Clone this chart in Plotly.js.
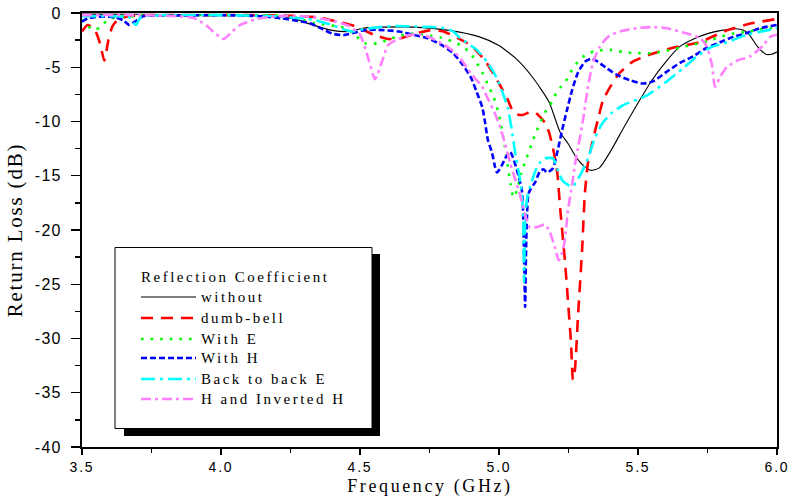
<!DOCTYPE html>
<html><head><meta charset="utf-8">
<script src="https://cdn.plot.ly/plotly-3.0.1.min.js"></script>
<style>
html,body{margin:0;padding:0;background:#fff;}
#chart{width:795px;height:498px;}
.annotation-text{letter-spacing:2.5px;}
.annotation[data-index="0"] .annotation-text{letter-spacing:2.6px;}
.xtitle,.ytitle{letter-spacing:1.8px;}
.ytick text{letter-spacing:1.3px;}
.xtick text{letter-spacing:1.8px;}
</style></head><body><div id="chart"></div><script>
// ---- data (GHz, dB) ----
const seriesNames = ["without", "dumb-bell", "With E", "With H", "Back to back E", "H and Inverted H"];
const legendTitle = "Reflection Coefficient";
const xTitle = "Frequency (GHz)";
const yTitle = "Return Loss (dB)";

const freqWithout = [3.5, 3.7, 3.9, 4.1, 4.2, 4.27, 4.33, 4.4, 4.46, 4.51, 4.58, 4.69, 4.82, 4.93, 5.0, 5.065, 5.12, 5.18, 5.22, 5.25, 5.28, 5.31, 5.33, 5.36, 5.4, 5.45, 5.5, 5.55, 5.6, 5.65, 5.7, 5.75, 5.8, 5.85, 5.88, 5.9, 5.93, 5.96, 5.98, 6.0];
const rlWithout   = [-0.1, -0.12, -0.15, -0.2, -0.3, -0.6, -1.1, -1.6, -1.7, -1.4, -1.3, -1.3, -1.6, -2.2, -3.0, -4.3, -5.9, -8.2, -11.0, -12.1, -13.4, -14.2, -14.5, -14.3, -12.8, -10.5, -8.3, -6.2, -4.5, -3.1, -2.4, -1.9, -1.6, -1.45, -1.6, -2.0, -3.1, -3.8, -3.8, -3.6];

const freqDumbbell = [3.5, 3.52, 3.545, 3.565, 3.58, 3.595, 3.61, 3.63, 3.67, 3.75, 3.9, 4.1, 4.25, 4.35, 4.42, 4.48, 4.55, 4.6, 4.65, 4.7, 4.75, 4.8, 4.85, 4.9, 4.95, 5.0, 5.03, 5.045, 5.06, 5.085, 5.105, 5.125, 5.145, 5.165, 5.18, 5.19, 5.2, 5.21, 5.22, 5.237, 5.248, 5.259, 5.266, 5.273, 5.284, 5.299, 5.309, 5.32, 5.335, 5.355, 5.375, 5.405, 5.435, 5.48, 5.535, 5.625, 5.72, 5.82, 5.9, 6.0];
const rlDumbbell   = [-1.7, -1.1, -1.5, -2.8, -4.4, -2.5, -1.2, -0.6, -0.3, -0.2, -0.2, -0.2, -0.25, -0.4, -0.8, -1.2, -2.0, -2.4, -2.3, -1.9, -1.6, -1.7, -2.3, -3.0, -4.4, -6.5, -7.9, -8.8, -9.3, -9.4, -9.2, -9.1, -9.5, -10.1, -11.0, -12.0, -13.2, -14.8, -18.0, -22.8, -26.5, -30.4, -33.8, -32.9, -28.0, -21.8, -16.6, -13.8, -12.0, -9.9, -8.0, -6.6, -5.5, -4.5, -3.9, -3.2, -2.7, -1.6, -1.0, -0.55];

const freqWithE = [3.5, 3.515, 3.54, 3.565, 3.59, 3.62, 3.7, 3.9, 4.1, 4.25, 4.33, 4.45, 4.48, 4.52, 4.56, 4.6, 4.64, 4.69, 4.74, 4.79, 4.83, 4.87, 4.9, 4.92, 4.94, 4.96, 4.98, 4.993, 5.005, 5.02, 5.032, 5.042, 5.052, 5.065, 5.08, 5.1, 5.13, 5.165, 5.19, 5.212, 5.237, 5.263, 5.284, 5.309, 5.345, 5.4, 5.446, 5.5, 5.55, 5.6, 5.65, 5.7, 5.75, 5.795, 5.84, 5.89, 5.94, 6.0];
const rlWithE   = [-0.6, -1.0, -1.6, -1.3, -0.7, -0.4, -0.25, -0.2, -0.2, -0.3, -0.9, -1.4, -2.0, -2.8, -2.8, -2.5, -2.1, -1.9, -2.05, -2.25, -2.6, -3.1, -3.8, -4.6, -5.5, -6.6, -7.7, -8.7, -10.0, -12.2, -14.2, -15.8, -17.0, -16.3, -14.8, -13.3, -11.2, -9.2, -8.2, -7.1, -6.4, -5.25, -4.5, -3.9, -3.5, -3.4, -3.6, -3.7, -3.7, -3.5, -3.2, -2.9, -2.6, -2.2, -1.9, -1.75, -1.5, -1.3];

const freqWithH = [3.5, 3.52, 3.56, 3.62, 3.65, 3.67, 3.69, 3.72, 3.8, 4.0, 4.15, 4.22, 4.28, 4.32, 4.367, 4.4, 4.44, 4.475, 4.51, 4.56, 4.64, 4.69, 4.74, 4.79, 4.835, 4.87, 4.9, 4.92, 4.94, 4.95, 4.96, 4.975, 4.986, 4.993, 5.011, 5.022, 5.04, 5.05, 5.07, 5.083, 5.09, 5.094, 5.098, 5.105, 5.112, 5.13, 5.147, 5.16, 5.173, 5.194, 5.209, 5.227, 5.245, 5.263, 5.284, 5.309, 5.335, 5.356, 5.388, 5.424, 5.471, 5.518, 5.554, 5.604, 5.651, 5.698, 5.748, 5.795, 5.842, 5.892, 5.939, 6.0];
const rlWithH   = [-0.8, -0.5, -0.35, -0.4, -0.7, -1.1, -0.8, -0.3, -0.25, -0.2, -0.3, -0.5, -0.75, -0.95, -1.5, -1.9, -2.05, -1.85, -1.6, -1.55, -1.7, -2.0, -2.3, -2.9, -3.7, -4.8, -6.0, -7.3, -8.7, -10.1, -11.7, -12.9, -14.2, -14.7, -14.0, -13.4, -12.8, -13.3, -15.0, -16.5, -22.0, -27.1, -21.0, -16.8, -16.3, -15.6, -14.6, -14.4, -14.7, -14.3, -12.9, -10.8, -8.9, -7.1, -5.5, -4.5, -4.2, -4.5, -5.1, -5.7, -6.2, -6.5, -6.3, -5.4, -4.6, -4.0, -3.2, -2.7, -2.2, -1.85, -1.4, -1.1];

const freqBackE = [3.5, 3.6, 3.67, 3.685, 3.695, 3.71, 3.8, 4.0, 4.2, 4.33, 4.37, 4.4, 4.44, 4.47, 4.51, 4.57, 4.63, 4.7, 4.79, 4.835, 4.86, 4.92, 4.957, 4.99, 5.011, 5.032, 5.045, 5.06, 5.076, 5.086, 5.09, 5.095, 5.105, 5.112, 5.13, 5.147, 5.165, 5.194, 5.212, 5.23, 5.263, 5.291, 5.32, 5.345, 5.374, 5.406, 5.446, 5.496, 5.532, 5.604, 5.662, 5.712, 5.759, 5.82, 5.892, 5.964, 6.0];
const rlBackE   = [-0.3, -0.3, -0.4, -0.9, -1.1, -0.4, -0.2, -0.2, -0.3, -0.6, -0.9, -1.1, -1.5, -1.7, -1.5, -1.3, -1.2, -1.25, -1.35, -1.7, -2.3, -3.4, -4.5, -5.9, -7.2, -8.8, -10.6, -13.2, -15.4, -18.0, -24.8, -18.5, -16.5, -16.0, -14.6, -13.8, -13.4, -13.4, -14.5, -15.5, -16.0, -15.0, -13.4, -11.5, -10.1, -9.2, -8.5, -8.0, -7.6, -6.3, -5.1, -4.0, -3.2, -2.7, -2.0, -1.6, -1.4];

const freqHInvH = [3.5, 3.7, 3.9, 3.95, 3.98, 4.01, 4.04, 4.07, 4.12, 4.2, 4.3, 4.4, 4.46, 4.5, 4.53, 4.554, 4.58, 4.6, 4.63, 4.68, 4.72, 4.76, 4.8, 4.84, 4.87, 4.9, 4.94, 4.96, 4.986, 5.004, 5.022, 5.04, 5.058, 5.076, 5.094, 5.112, 5.14, 5.165, 5.183, 5.201, 5.215, 5.227, 5.237, 5.248, 5.263, 5.273, 5.284, 5.302, 5.32, 5.338, 5.363, 5.392, 5.435, 5.496, 5.55, 5.604, 5.676, 5.723, 5.748, 5.766, 5.777, 5.795, 5.82, 5.856, 5.903, 5.95, 5.975, 6.0];
const rlHInvH   = [-0.2, -0.2, -0.45, -1.2, -1.9, -2.4, -1.7, -1.1, -0.6, -0.3, -0.3, -0.7, -1.2, -2.0, -4.2, -6.1, -4.4, -3.0, -2.5, -2.0, -2.0, -2.35, -2.9, -3.6, -4.5, -5.6, -6.8, -7.9, -9.3, -10.5, -12.1, -13.8, -15.3, -16.8, -18.6, -19.8, -19.7, -19.5, -20.2, -21.6, -22.8, -22.1, -20.9, -18.2, -15.8, -14.0, -12.5, -9.9, -6.8, -4.6, -3.1, -2.2, -1.7, -1.4, -1.3, -1.4, -1.9, -2.3, -3.1, -4.8, -6.8, -5.9, -5.0, -4.4, -4.0, -3.0, -2.2, -2.0];

const xTickVals = [3.5, 4.0, 4.5, 5.0, 5.5, 6.0];
const xTickText = ["3.5", "4.0", "4.5", "5.0", "5.5", "6.0"];
const yTickVals = [0, -5, -10, -15, -20, -25, -30, -35, -40];
const yTickText = ["0", "-5", "-10", "-15", "-20", "-25", "-30", "-35", "-40"];

// ---- styles ----
const styles = [
  {color: "#000000", width: 1.1, dash: "solid"},
  {color: "#ff0000", width: 2.6, dash: "12px,8px"},
  {color: "#00ff00", width: 2.6, dash: "2.6px,7px"},
  {color: "#0000ff", width: 2.6, dash: "6px,3px"},
  {color: "#00ffff", width: 2.6, dash: "14px,5px,3px,5px"},
  {color: "#ff80ff", width: 2.6, dash: "10px,4px,3px,4px"}
];
const xs = [freqWithout, freqDumbbell, freqWithE, freqWithH, freqBackE, freqHInvH];
const ys = [rlWithout, rlDumbbell, rlWithE, rlWithH, rlBackE, rlHInvH];

const traces = seriesNames.map((n, i) => ({
  type: "scatter", mode: "lines", name: n, x: xs[i], y: ys[i],
  line: {color: styles[i].color, width: styles[i].width, dash: styles[i].dash, shape: "spline", smoothing: 0.6},
  showlegend: false, hoverinfo: "skip"
}));

// ---- layout geometry (pixels -> paper) ----
const M = {l: 82, r: 18, t: 13, b: 51};
const W = 795, H = 498;
const PW = W - M.l - M.r, PH = H - M.t - M.b;
const px = v => (v - M.l) / PW;
const py = v => (H - M.b - v) / PH;

const shapes = [
  {type: "rect", xref: "paper", yref: "paper", x0: px(124), x1: px(380), y0: py(436), y1: py(254), fillcolor: "#000", line: {width: 0}, layer: "above"},
  {type: "rect", xref: "paper", yref: "paper", x0: px(115), x1: px(372), y0: py(428.5), y1: py(247.5), fillcolor: "#fff", line: {color: "#000", width: 1}, layer: "above"}
];
const annotations = [
  {xref: "paper", yref: "paper", x: 0.5, y: py(498), xanchor: "center", yanchor: "bottom", text: xTitle, showarrow: false, borderpad: 0,
    font: {family: "Liberation Serif", size: 18, color: "#000"}},
  {xref: "paper", yref: "paper", x: px(139), y: py(277), xanchor: "left", yanchor: "middle", text: legendTitle, showarrow: false, font: {family: "Liberation Serif", size: 15, color: "#000"}}
];
const rowY = [297, 318, 339, 358, 379, 399];
seriesNames.forEach((n, i) => {
  shapes.push({type: "line", xref: "paper", yref: "paper", x0: px(141), x1: px(196), y0: py(rowY[i]), y1: py(rowY[i]),
    line: {color: styles[i].color, width: styles[i].width, dash: styles[i].dash}, layer: "above"});
  annotations.push({xref: "paper", yref: "paper", x: px(199), y: py(rowY[i]), xanchor: "left", yanchor: "middle", text: n, showarrow: false,
    font: {family: "Liberation Serif", size: 15, color: "#000"}});
});

const axisCommon = {
  showgrid: false, zeroline: false, showline: true, linecolor: "#000", linewidth: 2, mirror: true,
  ticks: "outside", ticklen: 9, tickwidth: 1.3, tickcolor: "#000",
  tickfont: {family: "Liberation Sans", size: 16, color: "#000"}
};

const layout = {
  width: W, height: H, margin: M, paper_bgcolor: "#fff", plot_bgcolor: "#fff", showlegend: false,
  xaxis: Object.assign({}, axisCommon, {
    range: [3.5, 6.0], tickmode: "array", tickvals: xTickVals, ticktext: xTickText, ticklen: 6,
    tickfont: {family: "Liberation Sans", size: 14, color: "#000"},
    minor: {tickmode: "linear", tick0: 3.5, dtick: 0.25, ticks: "outside", ticklen: 4, tickwidth: 1.3, tickcolor: "#000"}
  }),
  yaxis: Object.assign({}, axisCommon, {
    range: [-40, 0], tickmode: "array", tickvals: yTickVals, ticktext: yTickText, ticklabelstandoff: 6,
    minor: {tickmode: "linear", tick0: 0, dtick: 2.5, ticks: "outside", ticklen: 5, tickwidth: 1.3, tickcolor: "#000"},
    title: {text: yTitle, font: {family: "Liberation Serif", size: 21, color: "#000"}, standoff: 6}
  }),
  shapes: shapes, annotations: annotations
};

Plotly.newPlot("chart", traces, layout, {displayModeBar: false, staticPlot: true});
</script></body></html>
